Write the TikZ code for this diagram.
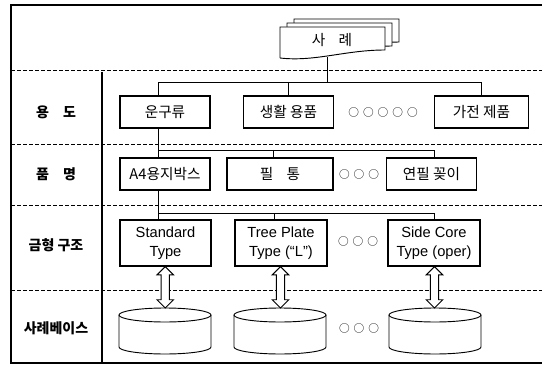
\documentclass[tikz,border=0pt]{standalone}
\usepackage{fontspec}
\setmainfont{Noto Sans CJK KR}
\newfontfamily\latin{Liberation Sans}
\usetikzlibrary{arrows.meta,positioning,shapes.arrows,calc}

\begin{document}
\begin{tikzpicture}[
  x=0.75pt, y=0.75pt,
  font=\fontsize{11}{12}\selectfont,
  box/.style={draw, line width=0.8pt, minimum height=24pt, align=center, inner sep=1pt},
  tallbox/.style={box, minimum height=34.5pt, font=\latin\fontsize{11}{14}\selectfont},
  rowlabel/.style={font=\fontsize{10.5}{12}\selectfont\bfseries},
  divline/.style={dash pattern=on 3pt off 1.5pt, line width=0.6pt},
  ln/.style={line width=0.7pt},
  ellip/.style={font=\fontsize{8}{10}\selectfont},
  dbl/.style={double arrow, draw, fill=white, line width=0.7pt, shape border rotate=90,
              inner sep=2.8pt, double arrow head extend=3pt, minimum height=31pt},
  docpage/.style={draw, fill=white, line width=0.7pt},
]
\useasboundingbox (0,0) rectangle (542,-367);

% frame and rows
\draw[line width=1.1pt] (546,-5) -- (11,-5) -- (11,-363) -- (546,-363);
\foreach \y in {70,144,205,290} \draw[divline] (11,-\y) -- (542,-\y);
\draw[line width=1pt] (102,-72) -- (102,-363);

\node[rowlabel] (l1) at (56,-112) {용\hspace{1em}도};
\node[rowlabel] (l2) at (56,-174) {품\hspace{1em}명};
\node[rowlabel] (l3) at (56,-245) {금형 구조};
\node[rowlabel] (l4) at (56,-328) {사례베이스};

% case documents
\foreach \d in {14,7,0}
  \draw[docpage, shift={(\d,{\d*0.57})}] (280,-58) -- (280,-27) -- (385,-27) -- (385,-50)
    .. controls (345,-50) and (315,-62) .. (280,-58);
\node (doc) at (332,-40) {사\hspace{0.9em}례};
\coordinate (docb) at (327,-57);

% usage
\node[box, minimum width=67.5pt] (u1) at (165,-112) {운구류};
\node[box, minimum width=68pt] (u2) at (288.5,-112) {생활 용품};
\node[ellip] (e1) at (383,-112) {○\hspace{3pt}○\hspace{3pt}○\hspace{3pt}○\hspace{3pt}○};
\node[box, minimum width=70pt] (u3) at (481.5,-112) {가전 제품};

% product name
\node[box, minimum width=67.5pt] (p1) at (165,-174) {A4용지박스};
\node[box, minimum width=79.5pt] (p2) at (280,-174) {필\hspace{0.9em}통};
\node[ellip] (e2) at (359,-174) {○\hspace{3pt}○\hspace{3pt}○};
\node[box, minimum width=68pt] (p3) at (431.5,-174) {연필 꽂이};

% mold structure
\node[tallbox, minimum width=68.25pt] (s1) at (165.5,-243) {Standard\\Type};
\node[tallbox, minimum width=69pt] (s2) at (281,-243) {Tree Plate\\Type (“L”)};
\node[ellip] (e3) at (358,-241) {○\hspace{3pt}○\hspace{3pt}○};
\node[tallbox, minimum width=69pt] (s3) at (434,-243) {Side Core\\Type (oper)};

% connectors
\coordinate (b1) at (158,-82);
\draw[ln] (docb) -- (docb |- b1);
\draw[ln] (b1 |- u1.north) -- (b1) -- (b1 -| u3.north) -- (u3.north);
\draw[ln] (u2.north |- b1) -- (u2.north);

\coordinate (b2) at (158,-150);
\coordinate (b2m) at (273,-150);
\coordinate (b2r) at (434,-150);
\draw[ln] (b2 |- u1.south) -- (b2 |- p1.north);
\draw[ln] (b2) -- (b2r) -- (b2r |- p3.north);
\draw[ln] (b2m) -- (b2m |- p2.north);

\coordinate (b3) at (158,-213);
\coordinate (b3m) at (274,-213);
\coordinate (b3r) at (434,-213);
\draw[ln] (b3 |- p1.south) -- (b3 |- s1.north);
\draw[ln] (b3) -- (b3r) -- (b3r |- s3.north);
\draw[ln] (b3m) -- (b3m |- s2.north);

% case base
\foreach \x/\n in {165/1,280/2,435/3} {
  \draw[docpage] ({\x-46},-315) -- ({\x-46},-347)
    arc[start angle=180, end angle=360, x radius=46, y radius=7] -- ({\x+46},-315);
  \draw[line width=0.7pt] (\x,-315) ellipse[x radius=46, y radius=7];
  \coordinate (c\n) at (\x,-308);
}
\node[ellip] (e4) at (359,-328) {○\hspace{3pt}○\hspace{3pt}○};

\foreach \n in {1,2,3} \node[dbl] (a\n) at ($(s\n.south)!0.5!(c\n)$) {};
\end{tikzpicture}
\end{document}
